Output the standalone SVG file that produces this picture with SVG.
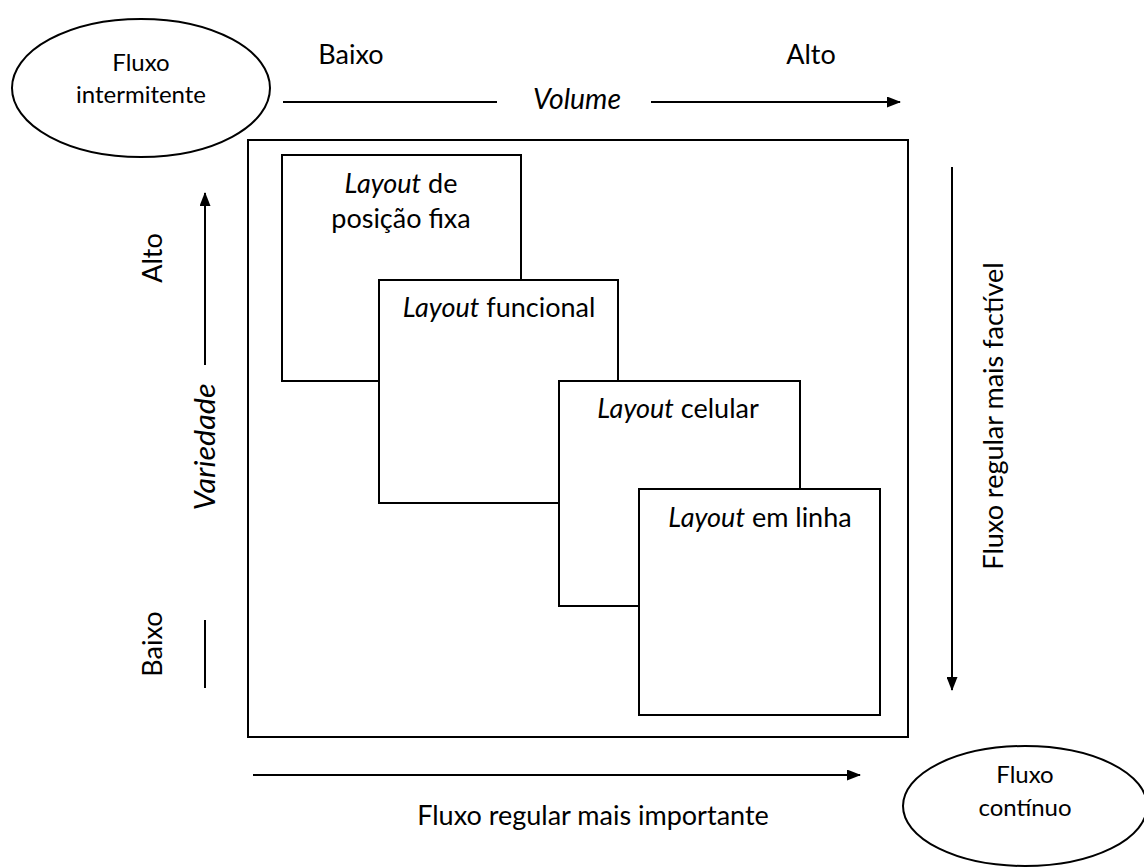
<svg xmlns="http://www.w3.org/2000/svg" width="1144" height="867" viewBox="0 0 1144 867">
  <style>
    text { font-family: Lato, "Liberation Sans", sans-serif; fill: #000; }
    .lbl { font-size: 27px; }
    .sm { font-size: 24px; }
    .it { font-style: italic; }
    .box { fill: #fff; stroke: #000; stroke-width: 2; }
    .ln { fill: none; stroke: #000; stroke-width: 2; }
  </style>
  <defs>
    <marker id="arr" viewBox="0 0 14 11" refX="13" refY="5.5" markerWidth="14" markerHeight="11" markerUnits="userSpaceOnUse" orient="auto">
      <path d="M0,0 L14,5.5 L0,11 Z" fill="#000"/>
    </marker>
  </defs>
  <rect width="1144" height="867" fill="#fff"/>

  <!-- outer frame -->
  <rect id="frame" class="box" x="248" y="140" width="660" height="597"/>

  <g id="fixa">
    <rect class="box" x="282" y="155" width="239" height="226"/>
    <text class="lbl" x="401" y="193" text-anchor="middle"><tspan class="it">Layout</tspan> de</text>
    <text class="lbl" x="401" y="228" text-anchor="middle">posição fixa</text>
  </g>
  <g id="funcional">
    <rect class="box" x="379" y="280" width="239" height="223"/>
    <text class="lbl" x="499" y="317" text-anchor="middle"><tspan class="it">Layout</tspan> funcional</text>
  </g>
  <g id="celular">
    <rect class="box" x="559" y="381" width="241" height="225"/>
    <text class="lbl" x="678" y="418" text-anchor="middle"><tspan class="it">Layout</tspan> celular</text>
  </g>
  <g id="linha">
    <rect class="box" x="639" y="489" width="241" height="226"/>
    <text class="lbl" x="760" y="527" text-anchor="middle"><tspan class="it">Layout</tspan> em linha</text>
  </g>

  <g id="intermitente">
    <ellipse class="ln" cx="141" cy="88" rx="129" ry="69"/>
    <text class="sm" x="141" y="71" text-anchor="middle">Fluxo</text>
    <text class="sm" x="141" y="103" text-anchor="middle">intermitente</text>
  </g>
  <g id="continuo">
    <ellipse class="ln" cx="1025" cy="806" rx="122" ry="60"/>
    <text class="sm" x="1025" y="783" text-anchor="middle">Fluxo</text>
    <text class="sm" x="1025" y="816" text-anchor="middle">contínuo</text>
  </g>

  <g id="connectors">
    <!-- volume axis -->
    <line class="ln" x1="283" y1="102" x2="497" y2="102"/>
    <line class="ln" x1="651" y1="102" x2="900" y2="102" marker-end="url(#arr)"/>
    <!-- variety axis -->
    <line class="ln" x1="205" y1="688" x2="205" y2="620"/>
    <line class="ln" x1="205" y1="365" x2="205" y2="193" marker-end="url(#arr)"/>
    <!-- regular flow feasibility -->
    <line class="ln" x1="952" y1="167" x2="952" y2="690" marker-end="url(#arr)"/>
    <!-- regular flow importance -->
    <line class="ln" x1="253" y1="775" x2="860" y2="775" marker-end="url(#arr)"/>
  </g>

  <g id="axis-labels">
    <text class="lbl" x="351" y="64" text-anchor="middle">Baixo</text>
    <text class="lbl" x="811" y="64" text-anchor="middle">Alto</text>
    <text class="lbl it" x="577" y="109" text-anchor="middle" style="font-size:29px" textLength="88" lengthAdjust="spacingAndGlyphs">Volume</text>
    <text class="lbl" transform="translate(162,258) rotate(-90)" text-anchor="middle">Alto</text>
    <text class="lbl" transform="translate(162,644) rotate(-90)" text-anchor="middle">Baixo</text>
    <text class="lbl it" transform="translate(215,447) rotate(-90)" text-anchor="middle" style="font-size:29px" textLength="127" lengthAdjust="spacingAndGlyphs">Variedade</text>
    <text class="lbl" transform="translate(1003,416) rotate(-90)" text-anchor="middle">Fluxo regular mais factível</text>
    <text class="lbl" x="593" y="825" text-anchor="middle">Fluxo regular mais importante</text>
  </g>
</svg>
